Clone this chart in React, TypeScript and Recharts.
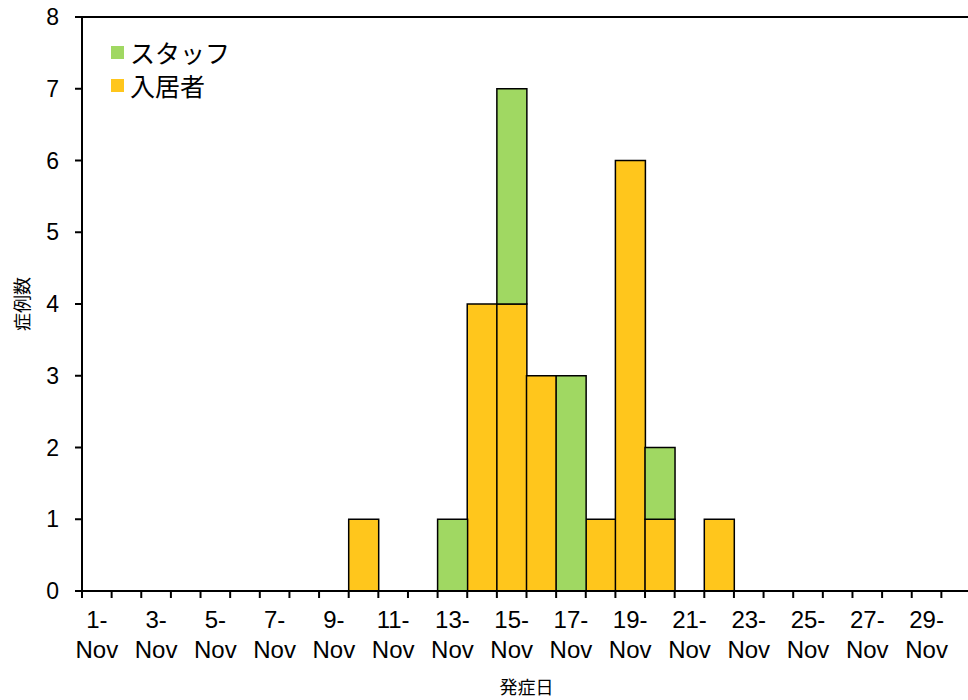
import React from 'react';
import { BarChart, Bar, XAxis, YAxis, ReferenceLine } from 'recharts';

// onset dates (November), one category per day
const days = [
  '1-Nov', '2-Nov', '3-Nov', '4-Nov', '5-Nov', '6-Nov', '7-Nov', '8-Nov', '9-Nov', '10-Nov',
  '11-Nov', '12-Nov', '13-Nov', '14-Nov', '15-Nov', '16-Nov', '17-Nov', '18-Nov', '19-Nov', '20-Nov',
  '21-Nov', '22-Nov', '23-Nov', '24-Nov', '25-Nov', '26-Nov', '27-Nov', '28-Nov', '29-Nov', '30-Nov',
];
const residents = [0, 0, 0, 0, 0, 0, 0, 0, 0, 1, 0, 0, 0, 4, 4, 3, 0, 1, 6, 1, 0, 1, 0, 0, 0, 0, 0, 0, 0, 0];
const staff = [0, 0, 0, 0, 0, 0, 0, 0, 0, 0, 0, 0, 1, 0, 3, 0, 3, 0, 0, 1, 0, 0, 0, 0, 0, 0, 0, 0, 0, 0];
const yTicks = [0, 1, 2, 3, 4, 5, 6, 7, 8];

const data = days.map((d, i) => ({ day: d, residents: residents[i], staff: staff[i] }));

const FONT = '"Liberation Sans", Arial, "Noto Sans CJK JP", sans-serif';
const JP_FONT = '"Noto Sans CJK JP", sans-serif';
const GREEN = '#a0d862';
const YELLOW = '#ffc61c';

const W = 968;
const H = 700;
const LEFT = 82;
const RIGHT = -3;
const BAND = (W - LEFT - RIGHT) / days.length;

const legendItems = [
  { name: 'スタッフ', color: GREEN },
  { name: '入居者', color: YELLOW },
];

// tick marks sit on the day boundaries, labels only on odd days
const DayTick = (props: any) => {
  const { x, y, payload, index } = props;
  const [num, mon] = String(payload.value).split('-');
  const lx = x - BAND / 2;
  return (
    <g>
      <line x1={lx} x2={lx} y1={y} y2={y + 7} stroke="#000" strokeWidth={2} />
      {index % 2 === 0 && (
        <text x={x} y={y} textAnchor="middle" fontSize={24} fontFamily={FONT} fill="#000">
          <tspan x={x} dy={37}>{num}-</tspan>
          <tspan x={x} dy={30}>{mon}</tspan>
        </text>
      )}
    </g>
  );
};

export default function App() {
  return (
    <div style={{ width: W, height: H, position: 'relative' }}>
      <style>{'body{margin:0}'}</style>
      <BarChart
        width={W}
        height={H}
        data={data}
        barCategoryGap={0}
        barGap={0}
        margin={{ top: 17, right: RIGHT, bottom: 0, left: 0 }}
      >
        <XAxis
          dataKey="day"
          interval={0}
          tickSize={0}
          tickMargin={0}
          tickLine={false}
          tick={<DayTick />}
          height={109}
          axisLine={{ stroke: '#000', strokeWidth: 2 }}
          label={{ value: '発症日', position: 'insideBottom', offset: 6, fontSize: 18, fontFamily: JP_FONT, fill: '#000' }}
        />
        <YAxis
          domain={[0, 8]}
          ticks={yTicks}
          interval={0}
          width={LEFT}
          tickSize={7}
          tickMargin={16}
          tick={{ fontSize: 23, fontFamily: FONT, fill: '#000' }}
          tickLine={{ stroke: '#000', strokeWidth: 2 }}
          axisLine={{ stroke: '#000', strokeWidth: 2 }}
          label={{ value: '症例数', angle: -90, position: 'insideLeft', offset: 23, fontSize: 18, fontFamily: JP_FONT, fill: '#000', style: { textAnchor: 'middle' } }}
        />
        <ReferenceLine y={8} stroke="#000" strokeWidth={2} />
        <Bar dataKey="residents" name="入居者" stackId="a" fill={YELLOW} stroke="#000" strokeWidth={1.5} isAnimationActive={false} />
        <Bar dataKey="staff" name="スタッフ" stackId="a" fill={GREEN} stroke="#000" strokeWidth={1.5} isAnimationActive={false} />
      </BarChart>
      <div style={{ position: 'absolute', left: 111, top: 36, fontFamily: JP_FONT, fontSize: 25, lineHeight: '33px', color: '#000' }}>
        {legendItems.map((e) => (
          <div key={e.name} style={{ display: 'flex', alignItems: 'center', whiteSpace: 'nowrap' }}>
            <span style={{ width: 13, height: 13, background: e.color, display: 'inline-block', marginRight: 6 }} />
            <span>{e.name}</span>
          </div>
        ))}
      </div>
    </div>
  );
}
